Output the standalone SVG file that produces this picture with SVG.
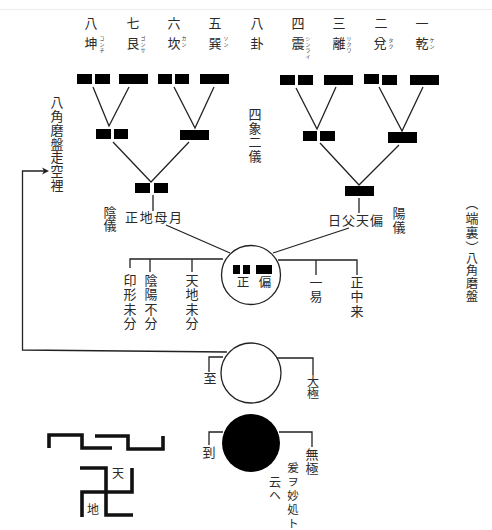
<svg xmlns="http://www.w3.org/2000/svg" width="492" height="530" viewBox="0 0 492 530">
<style>
text{font-family:"Noto Sans CJK JP","Noto Sans CJK SC",sans-serif;fill:#2a2a2a;font-size:13px}
.m{text-anchor:middle}
.v{writing-mode:vertical-rl;text-orientation:upright;font-size:13px;letter-spacing:1.300px}
.r{font-size:5px;writing-mode:vertical-rl;text-orientation:upright;fill:#333;letter-spacing:1px}
.l{fill:none;stroke:#222;stroke-width:1.300}
.k{fill:none;stroke:#111;stroke-width:3.600}
.c{fill:#fff;stroke:#222;stroke-width:1.300}
rect{fill:#000}
</style>
<rect x="0" y="0" width="492" height="530" style="fill:#fff"/>
<path d="M0 9.500H492" stroke="#ececec" fill="none"/>

<g id="connectors">
<path class="l" d="M93 87L109 126L129 87M174 87L195 128L214 87M296 88L317 129L336 87M379 87L402 131L423 87"/>
<path class="l" d="M113 142L151 182L189 142M320 143L359 185L399 145"/>
<path class="l" d="M153 195V211M359 198V213M166 225L230 253M349 228L273 253"/>
<path class="l" d="M130 268V259H223M150 259V272M192 259V272M278 260H357V275M316 260V275"/>
<path class="l" d="M227 352L22.500 350V171H46"/>
<path d="M49 171L42 167.500L44 171L42 174.500Z" fill="#222"/>
<path class="l" d="M223 357H209V372M277 358H313V375"/>
<path class="l" d="M223 432H209V445M279 432H312V447"/>
</g>

<g id="trigram-kun"><text class="m" x="91" y="28">八</text><text class="m" x="91" y="48">坤</text><text class="r" x="102" y="36">コンチ</text><rect x="77" y="74" width="15" height="10"/><rect x="95" y="74" width="15" height="10"/></g>
<g id="trigram-gon"><text class="m" x="133" y="28">七</text><text class="m" x="133" y="48">艮</text><text class="r" x="143" y="36">ゴンサ</text><rect x="119" y="74" width="29" height="10"/></g>
<g id="trigram-kan"><text class="m" x="174" y="28">六</text><text class="m" x="174" y="48">坎</text><text class="r" x="184" y="36">カン</text><rect x="158" y="74" width="14" height="10"/><rect x="175" y="74" width="14" height="10"/></g>
<g id="trigram-son"><text class="m" x="215" y="28">五</text><text class="m" x="215" y="48">巽</text><text class="r" x="226" y="36">ソン</text><rect x="200" y="74" width="29" height="10"/></g>
<g id="hakke"><text class="m" x="257" y="28">八</text><text class="m" x="257" y="48">卦</text></g>
<g id="trigram-shin"><text class="m" x="298" y="28">四</text><text class="m" x="298" y="48">震</text><text class="r" x="308" y="36">シンライ</text><rect x="280" y="75" width="15" height="10"/><rect x="298" y="75" width="15" height="10"/></g>
<g id="trigram-ri"><text class="m" x="339" y="28">三</text><text class="m" x="339" y="48">離</text><text class="r" x="349" y="36">リクワ</text><rect x="324" y="75" width="29" height="10"/></g>
<g id="trigram-da"><text class="m" x="381" y="28">二</text><text class="m" x="380" y="48">兌</text><text class="r" x="391" y="38">タク</text><rect x="364" y="74" width="15" height="10"/><rect x="382" y="75" width="15" height="10"/></g>
<g id="trigram-ken"><text class="m" x="422" y="28">一</text><text class="m" x="422" y="48">乾</text><text class="r" x="432" y="38">ケン</text><rect x="410" y="75" width="29" height="10"/></g>

<g id="four-1"><rect x="96" y="129" width="15" height="10"/><rect x="114" y="129" width="14" height="10"/></g>
<g id="four-2"><rect x="180" y="130" width="29" height="10"/></g>
<g id="four-3"><rect x="303" y="131" width="14" height="10"/><rect x="320" y="131" width="15" height="10"/></g>
<g id="four-4"><rect x="388" y="132" width="29" height="11"/></g>
<g id="shisho"><text class="v" x="255" y="107.500" style="letter-spacing:1px">四象二儀</text></g>

<g id="in-gi"><rect x="135" y="183" width="15" height="10"/><rect x="154" y="183" width="14" height="10"/><text class="m" x="153.500" y="222" textLength="57">正地母月</text><text class="v" x="110" y="205.500" style="letter-spacing:.5px">陰儀</text></g>
<g id="yo-gi"><rect x="345" y="186" width="29" height="10"/><text class="m" x="355.500" y="225" textLength="55">日父天偏</text><text class="v" x="399" y="206.500" style="letter-spacing:1px">陽儀</text></g>

<g id="title-side"><text class="v" x="57" y="96" style="letter-spacing:.7px">八角磨盤走空裡</text></g>
<g id="title-right"><text class="v" x="472" y="197" style="letter-spacing:1.500px">（端裏）</text><text class="v" x="472" y="252" style="font-size:12px;letter-spacing:.7px">八角磨盤</text></g>

<g id="circle-seihen"><circle class="c" cx="251" cy="275" r="29.500"/><rect x="233" y="265" width="7" height="9"/><rect x="243" y="265" width="7" height="9"/><rect x="256" y="265" width="16" height="9"/><text class="m" x="243" y="287" style="font-size:12.500px">正</text><text class="m" x="265" y="287" style="font-size:12.500px">偏</text></g>
<g id="label-1"><text class="v" x="130" y="273.500">印形未分</text></g>
<g id="label-2"><text class="v" x="151" y="273.500">陰陽不分</text></g>
<g id="label-3"><text class="v" x="192" y="273.500">天地未分</text></g>
<g id="label-4"><text class="v" x="316" y="275.500">一易</text></g>
<g id="label-5"><text class="v" x="357" y="275.500">正中来</text></g>

<g id="circle-white"><circle class="c" cx="251" cy="373" r="30"/><text class="m" x="210" y="383">至</text><text class="v" x="313" y="375" style="font-size:12px;letter-spacing:.5px">大極</text></g>
<g id="circle-black"><circle cx="251" cy="443" r="29" fill="#000"/><text class="m" x="209" y="457">到</text><text class="v" x="312" y="448" style="letter-spacing:.8px">無極</text><text class="v" x="293" y="461.500" style="font-size:11.500px;letter-spacing:2.500px">爰ヲ妙処ト</text><text class="v" x="275" y="476" style="font-size:12px">云ヘ</text></g>

<g id="emblem">
<path class="k" d="M49 448V435H82V448H112M95 436H128V449H163V436"/>
<path class="k" d="M80 468H106V515H133M82 517V492H132V468"/>
<text class="m" x="118" y="478" style="font-size:12px">天</text>
<text class="m" x="93" y="514" style="font-size:12px">地</text>
</g>
</svg>
